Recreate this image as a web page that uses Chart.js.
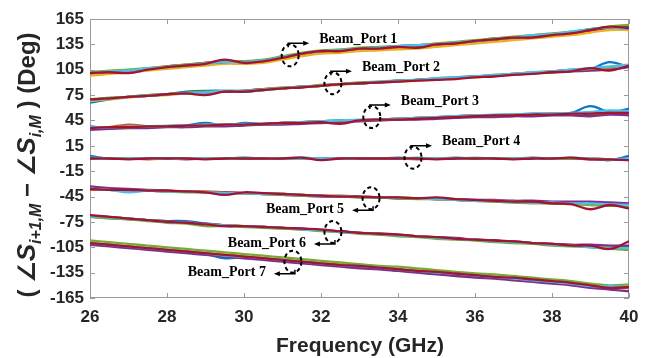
<!DOCTYPE html>
<html>
<head>
<meta charset="utf-8">
<script src="https://cdn.jsdelivr.net/npm/chart.js@4.4.0/dist/chart.umd.min.js"></script>
<style>
  html, body { margin: 0; padding: 0; background: #fff; }
</style>
</head>
<body>
<canvas id="phaseChart" width="652" height="358"></canvas>
<script>
// --- DATA ---
const freqs = [26, 26.5, 27, 27.5, 28, 28.5, 29, 29.5, 30, 30.5, 31, 31.5, 32, 32.5, 33,
               33.5, 34, 34.5, 35, 35.5, 36, 36.5, 37, 37.5, 38, 38.5, 39, 39.5, 40];
const xTicks = [26, 28, 30, 32, 34, 36, 38, 40];
const yTicks = [-165, -135, -105, -75, -45, -15, 15, 45, 75, 105, 135, 165];

// series per port, in order: blue, orange, yellow, purple, green, cyan, red
const port1 = [
  [101,103,103,106,108,110,113,114,114,116,120,124,127,128,130,131,133,134,135,137,139,142,143,145,147,149,153,155,155],
  [100,102,104,106,108,110,112,114,114,115,119,123,126,127,129,130,131,132,134,136,138,140,142,144,146,148,151,154,154],
  [98,100,102,104,106,108,110,112,112,113,117,121,124,125,127,128,129,130,132,134,136,138,140,142,144,146,149,152,152],
  [102,103,104,106,109,111,113,114,115,116,120,124,127,128,130,131,132,133,135,137,139,141,143,145,147,149,152,155,157],
  [102,104,105,107,109,111,113,115,115,117,121,125,128,129,131,132,133,134,136,138,140,142,144,146,148,150,153,156,158],
  [101,103,104,107,108,110,112,114,114,116,120,124,127,128,130,131,133,134,135,137,139,141,143,146,147,150,153,155,153],
  [101,102,101,105,108,110,112,117,113,115,119,124,127,127,130,130,132,131,135,136,139,141,143,143,146,148,152,156,154]
];
const port2 = [
  [66,70,73,75,76,79,80,80,79,81,83,85,86,88,89,90,92,93,94,96,97,98,100,101,103,105,106,114,108],
  [69,71,73,74,76,77,78,79,80,82,83,85,86,88,89,90,91,93,94,95,97,98,99,101,103,104,106,108,110],
  [68,70,72,74,75,77,78,79,80,81,83,84,86,87,89,90,91,92,94,95,96,98,99,101,102,104,106,107,109],
  [70,71,73,74,76,77,78,79,80,82,83,85,86,88,89,90,92,93,94,95,97,98,100,101,102,103,104,105,108],
  [70,72,73,75,76,78,79,80,80,82,84,85,87,88,90,91,92,93,95,96,97,99,100,102,103,104,106,108,110],
  [69,71,73,74,76,77,78,80,80,81,83,85,86,88,89,91,92,93,95,96,97,99,100,102,103,105,107,109,111],
  [70,71,73,74,76,77,75,79,79,81,83,84,86,88,89,90,91,92,93,94,96,97,99,100,102,103,107,104,110]
];
const port3 = [
  [38,36,37,38,38,39,42,39,42,41,42,43,44,45,45,46,47,48,49,50,51,51,52,53,53,54,62,55,59],
  [35,37,40,38,38,39,40,40,40,41,42,43,44,44,45,46,47,48,48,50,51,51,52,52,53,53,53,53,55],
  [35,36,37,37,38,38,39,39,40,40,41,42,43,44,45,45,46,47,48,49,50,51,51,52,52,52,53,54,55],
  [34,35,36,36,37,37,38,38,39,40,40,41,42,43,44,45,46,46,47,48,49,49,50,50,51,51,50,52,51],
  [36,37,37,38,38,39,39,40,40,41,42,43,44,45,45,46,47,48,49,50,51,51,52,52,53,53,53,54,55],
  [37,37,38,38,39,39,40,40,41,41,42,43,44,45,46,46,47,48,49,50,51,52,52,53,53,54,55,57,56],
  [36,37,37,38,38,39,39,40,40,41,42,42,43,41,45,46,46,47,48,49,50,51,51,52,52,53,53,54,54]
];
const port4 = [
  [3,0,0,0,0,0,0,0,1,0,0,1,0,0,0,0,1,0,0,1,0,0,0,1,0,0,0,-2,3],
  [0,0,0,-1,0,0,0,0,0,0,0,0,0,0,0,0,0,-1,0,0,0,0,0,0,0,0,0,-1,-1],
  [0,0,0,0,0,0,0,0,0,0,0,0,0,0,0,0,0,0,0,0,0,0,0,0,0,0,0,-1,-1],
  [0,0,0,0,0,-1,0,0,0,0,0,0,0,0,0,0,0,0,0,0,0,0,0,0,0,0,-1,-1,-1],
  [0,0,0,0,0,0,0,0,0,0,0,0,0,0,0,0,0,0,0,0,0,0,0,0,0,0,0,-1,-1],
  [1,0,0,0,0,0,0,0,1,0,0,0,0,0,0,0,0,1,0,0,1,0,0,0,0,1,0,-1,0],
  [0,0,-1,0,0,0,-1,0,0,0,0,1,-2,0,0,0,0,0,-1,0,0,0,-1,0,0,1,-1,-1,-2]
];
const port5 = [
  [-37,-37,-38,-38,-39,-39,-40,-40,-41,-41,-42,-43,-44,-45,-45,-46,-47,-47,-48,-49,-50,-51,-52,-52,-53,-53,-52,-55,-56],
  [-37,-37,-37,-38,-38,-39,-39,-40,-41,-41,-42,-43,-44,-44,-45,-46,-46,-47,-48,-49,-50,-50,-51,-52,-52,-53,-54,-55,-56],
  [-36,-37,-38,-38,-39,-39,-40,-40,-41,-42,-42,-43,-44,-45,-45,-46,-47,-47,-48,-49,-50,-51,-51,-52,-53,-53,-54,-54,-55],
  [-33,-35,-36,-37,-38,-39,-40,-40,-41,-42,-43,-44,-45,-45,-46,-46,-47,-47,-48,-48,-49,-49,-50,-50,-51,-51,-51,-52,-53],
  [-36,-37,-38,-38,-39,-40,-40,-41,-41,-42,-43,-44,-44,-45,-46,-46,-47,-48,-48,-49,-50,-51,-52,-53,-53,-54,-55,-56,-56],
  [-36,-37,-40,-38,-39,-39,-40,-41,-41,-42,-42,-43,-44,-45,-45,-46,-46,-47,-48,-49,-50,-50,-51,-52,-52,-53,-53,-54,-55],
  [-36,-37,-37,-38,-38,-39,-40,-43,-40,-41,-42,-43,-44,-45,-45,-46,-46,-47,-46,-48,-49,-50,-51,-51,-53,-54,-60,-55,-59]
];
const port6 = [
  [-69,-70,-71,-73,-74,-74,-77,-79,-80,-81,-82,-83,-85,-86,-88,-89,-91,-92,-94,-95,-96,-98,-99,-100,-102,-103,-103,-106,-104],
  [-68,-70,-72,-73,-75,-76,-78,-79,-80,-81,-82,-84,-85,-87,-88,-89,-91,-92,-94,-95,-96,-97,-99,-100,-101,-103,-104,-105,-106],
  [-68,-70,-71,-73,-75,-76,-78,-79,-80,-81,-83,-84,-85,-87,-88,-90,-91,-92,-94,-95,-96,-98,-99,-100,-102,-103,-104,-105,-106],
  [-68,-69,-71,-73,-74,-76,-77,-79,-80,-81,-82,-83,-85,-86,-88,-89,-90,-92,-93,-94,-96,-97,-98,-100,-101,-102,-102,-103,-103],
  [-69,-71,-72,-74,-76,-77,-80,-80,-81,-82,-83,-84,-86,-87,-89,-90,-92,-93,-95,-96,-97,-99,-100,-101,-103,-104,-105,-107,-108],
  [-68,-70,-71,-73,-75,-76,-78,-79,-80,-81,-82,-84,-85,-87,-88,-89,-91,-92,-94,-95,-96,-98,-99,-100,-102,-103,-105,-106,-106],
  [-67,-69,-71,-73,-75,-76,-78,-80,-80,-81,-82,-83,-84,-86,-88,-89,-90,-92,-93,-95,-96,-97,-98,-100,-101,-103,-103,-107,-98]
];
const port7 = [
  [-101,-103,-105,-107,-109,-111,-113,-118,-117,-119,-121,-123,-125,-126,-128,-130,-132,-133,-135,-137,-139,-141,-142,-144,-146,-148,-152,-152,-153],
  [-100,-102,-104,-106,-108,-110,-112,-114,-116,-118,-120,-122,-124,-126,-127,-129,-131,-133,-135,-137,-139,-140,-142,-144,-146,-148,-150,-152,-153],
  [-100,-102,-104,-106,-108,-110,-112,-114,-116,-118,-120,-122,-124,-125,-127,-129,-131,-133,-134,-136,-138,-140,-142,-144,-146,-148,-150,-151,-152],
  [-102,-104,-106,-108,-110,-112,-114,-116,-118,-120,-122,-124,-126,-128,-130,-131,-133,-135,-137,-139,-141,-142,-144,-146,-148,-150,-153,-155,-157],
  [-97,-99,-101,-103,-105,-107,-109,-111,-113,-115,-117,-119,-121,-123,-125,-127,-128,-130,-132,-134,-136,-137,-139,-141,-143,-145,-148,-150,-149],
  [-100,-102,-104,-106,-108,-110,-112,-115,-116,-118,-120,-122,-124,-126,-127,-129,-131,-133,-135,-136,-138,-140,-142,-144,-146,-148,-151,-151,-152],
  [-100,-102,-104,-106,-108,-110,-112,-114,-116,-118,-120,-122,-124,-126,-127,-129,-131,-133,-134,-136,-138,-140,-141,-143,-145,-147,-150,-153,-152]
];
const ports = [port1, port2, port3, port4, port5, port6, port7];

// dashed-ellipse callouts: [label, freq, phase, arrow direction]
const callouts = [
  ['Beam_Port 1', 31.2, 122, 'right'],
  ['Beam_Port 2', 32.31, 89, 'right'],
  ['Beam_Port 3', 33.32, 49, 'right'],
  ['Beam_Port 4', 34.39, 1, 'right'],
  ['Beam_Port 5', 33.3, -47, 'left'],
  ['Beam_Port 6', 32.31, -87, 'left'],
  ['Beam_Port 7', 31.27, -122, 'left']
];

const seriesColors = ['#0f76c6', '#D95319', '#EDB120', '#7E2F8E', '#77AC30', '#4DBEEE', '#A2142F'];
const textColor = '#262626';

// --- DATASETS ---
// Chart.js paints the first dataset last, so push the red group first to keep it on top
const datasets = [];
for (let c = seriesColors.length - 1; c >= 0; c--) {
  ports.forEach(port => {
    datasets.push({
      data: freqs.map((f, i) => ({ x: f, y: port[c][i] })),
      borderColor: seriesColors[c],
      borderWidth: 2.3,
      pointRadius: 0,
      tension: 0.4,
      fill: false
    });
  });
}

// --- PLUGINS ---
const axesBox = {
  id: 'axesBox',
  beforeDatasetsDraw(chart) {
    const { ctx, chartArea: a, scales: { x, y } } = chart;
    ctx.save();
    ctx.strokeStyle = '#9a9a9a';
    ctx.lineWidth = 1;
    ctx.strokeRect(a.left + 0.5, a.top + 0.5, a.right - a.left - 1, a.bottom - a.top - 1);
    ctx.beginPath();
    xTicks.forEach(v => {
      const px = Math.round(x.getPixelForValue(v)) + 0.5;
      ctx.moveTo(px, a.bottom); ctx.lineTo(px, a.bottom - 5);
      ctx.moveTo(px, a.top); ctx.lineTo(px, a.top + 5);
    });
    yTicks.forEach(v => {
      const py = Math.round(y.getPixelForValue(v)) + 0.5;
      ctx.moveTo(a.left, py); ctx.lineTo(a.left + 5, py);
      ctx.moveTo(a.right, py); ctx.lineTo(a.right - 5, py);
    });
    ctx.stroke();
    ctx.restore();
  },
  afterDatasetsDraw(chart) {
    const { ctx, scales: { x, y } } = chart;
    ctx.save();
    ctx.lineWidth = 2;
    ctx.strokeStyle = '#000';
    ctx.fillStyle = '#000';
    callouts.forEach(([label, f, v, dir]) => {
      const cx = x.getPixelForValue(f);
      const cy = y.getPixelForValue(v);
      ctx.setLineDash([4, 3]);
      ctx.beginPath();
      ctx.ellipse(cx, cy, 8.5, 11, 0, 0, Math.PI * 2);
      ctx.stroke();
      ctx.setLineDash([]);

      const ay = dir === 'right' ? cy - 12 : cy + 12;
      const x0 = dir === 'right' ? cx - 2 : cx + 2;
      const tip = dir === 'right' ? cx + 19 : cx - 19;
      const s = dir === 'right' ? 1 : -1;
      ctx.lineWidth = 1.5;
      ctx.beginPath();
      ctx.moveTo(x0, ay + (dir === 'right' ? 4 : -4));
      ctx.lineTo(x0, ay);
      ctx.lineTo(tip - s * 4, ay);
      ctx.stroke();
      ctx.beginPath();
      ctx.moveTo(tip, ay);
      ctx.lineTo(tip - s * 6, ay - 2.5);
      ctx.lineTo(tip - s * 6, ay + 2.5);
      ctx.closePath();
      ctx.fill();
      ctx.lineWidth = 2;

      ctx.font = 'bold 14px "Liberation Serif", "Times New Roman", serif';
      ctx.textBaseline = 'middle';
      if (dir === 'right') {
        ctx.textAlign = 'left';
        ctx.fillText(label, tip + 10, ay - 4);
      } else {
        ctx.textAlign = 'right';
        ctx.fillText(label, tip - 8, ay - 1);
      }
    });
    ctx.restore();
  },
  afterDraw(chart) {
    const { ctx } = chart;
    ctx.save();
    ctx.fillStyle = textColor;
    ctx.textBaseline = 'middle';
    ctx.textAlign = 'center';
    ctx.font = 'bold 21px Arial, "Liberation Sans", sans-serif';
    ctx.fillText('Frequency (GHz)', 360, 346);

    // rotated y title with subscripts
    const plain = 'bold 24px Arial, "Liberation Sans", "DejaVu Sans", sans-serif';
    const ital = 'italic bold 26px Arial, "Liberation Sans", sans-serif';
    const sub = 'italic bold 16px Arial, "Liberation Sans", sans-serif';
    const pieces = [
      ['(', plain, 0], [' \u2220', plain, 0], ['S', ital, 0], ['i+1,M', sub, 6],
      [' \u2212 ', plain, 0], ['\u2220', plain, 0], ['S', ital, 0], ['i,M', sub, 6],
      [' )', plain, 0], [' (Deg)', plain, 0]
    ];
    let total = 0;
    pieces.forEach(p => { ctx.font = p[1]; total += ctx.measureText(p[0]).width; });
    ctx.translate(27, 165);
    ctx.rotate(-Math.PI / 2);
    ctx.textAlign = 'left';
    ctx.textBaseline = 'alphabetic';
    let px = -total / 2;
    pieces.forEach(p => {
      ctx.font = p[1];
      ctx.fillText(p[0], px, 8 + p[2]);
      px += ctx.measureText(p[0]).width;
    });
    ctx.restore();
  }
};

// --- CHART ---
const tickFont = { family: 'Arial, "Liberation Sans", sans-serif', weight: 'bold', size: 17 };

new Chart(document.getElementById('phaseChart'), {
  type: 'line',
  data: { datasets },
  options: {
    responsive: false,
    animation: false,
    layout: { padding: { top: 19, right: 23, left: 0, bottom: 0 } },
    plugins: { legend: { display: false }, tooltip: { enabled: false } },
    scales: {
      x: {
        type: 'linear',
        min: 26,
        max: 40,
        afterBuildTicks: s => { s.ticks = xTicks.map(v => ({ value: v })); },
        afterFit: s => { s.height = 60; },
        grid: { display: false, drawTicks: false },
        border: { display: false },
        ticks: { font: tickFont, color: textColor, padding: 9, maxRotation: 0 }
      },
      y: {
        min: -165,
        max: 165,
        afterBuildTicks: s => { s.ticks = yTicks.map(v => ({ value: v })); },
        afterFit: s => { s.width = 90; },
        grid: { display: false, drawTicks: false },
        border: { display: false },
        ticks: { font: tickFont, color: textColor, padding: 6 }
      }
    }
  },
  plugins: [axesBox]
});
</script>
</body>
</html>
